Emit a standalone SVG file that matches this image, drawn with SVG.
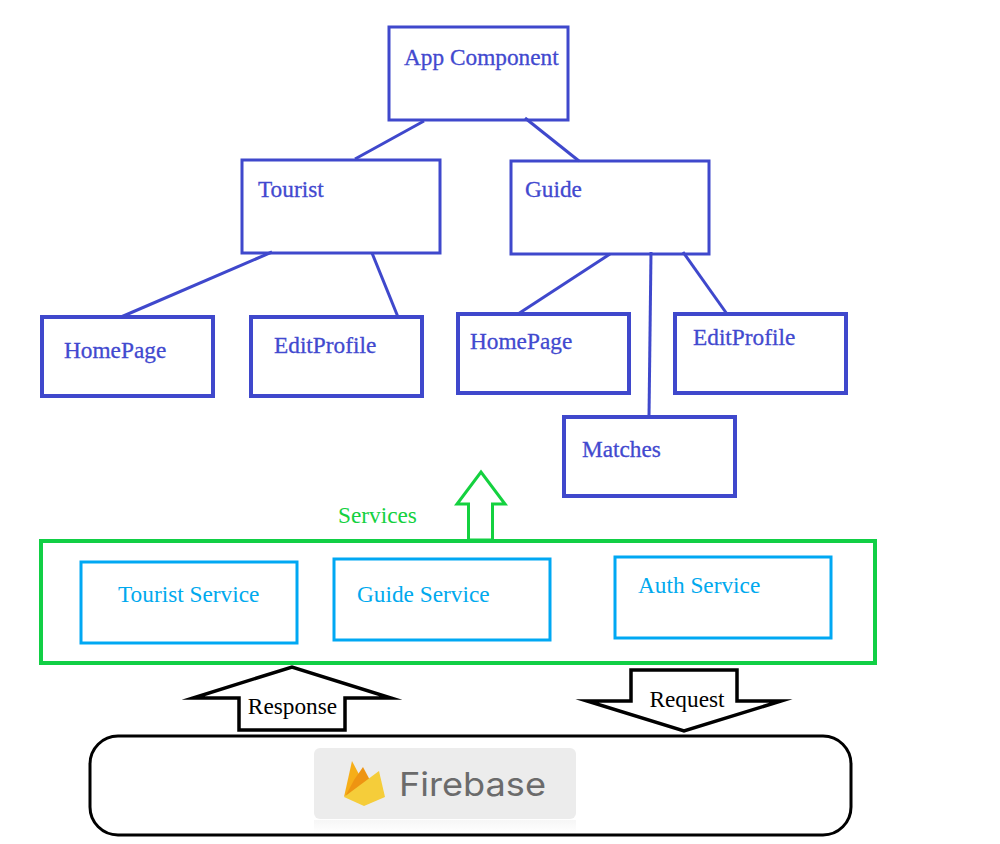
<svg xmlns="http://www.w3.org/2000/svg" width="1000" height="844" viewBox="0 0 1000 844">
<defs>
<linearGradient id="fade" x1="0" y1="0" x2="0" y2="1"><stop offset="0" stop-color="#f6f6f6"/><stop offset="1" stop-color="#ffffff"/></linearGradient>
</defs>
<style>
.t{font-family:"Liberation Serif","Times New Roman",serif;font-size:23.3px}
.blue{fill:#4249cf;stroke:#4249cf;stroke-width:.3px}
.cy{fill:#00a9ee}
.n{fill:#fff;stroke:#3f48cc;stroke-width:3}
.n4{fill:#fff;stroke:#3f48cc;stroke-width:4}
.s{fill:#fff;stroke:#00a8f3;stroke-width:3}
.c{fill:none;stroke:#3f48cc;stroke-width:3}
.bk{fill:#fff;stroke:#000;stroke-width:3.5;stroke-linejoin:miter;stroke-miterlimit:12}
</style>
<rect width="1000" height="844" fill="#fff"/>
<g id="app"><rect class="n" x="389" y="27" width="179" height="93"/><text class="t blue" x="404" y="65">App Component</text></g>
<g id="tourist"><rect class="n" x="242" y="160" width="198" height="93"/><text class="t blue" x="258" y="197">Tourist</text></g>
<g id="guide"><rect class="n" x="511" y="161" width="198" height="93"/><text class="t blue" x="525" y="197">Guide</text></g>
<g id="t-home"><rect class="n4" x="42" y="317" width="171" height="79"/><text class="t blue" x="64" y="358">HomePage</text></g>
<g id="t-edit"><rect class="n4" x="251" y="317" width="171" height="79"/><text class="t blue" x="274" y="353">EditProfile</text></g>
<g id="g-home"><rect class="n4" x="458" y="314" width="171" height="79"/><text class="t blue" x="470" y="349">HomePage</text></g>
<g id="g-edit"><rect class="n4" x="675" y="314" width="171" height="79"/><text class="t blue" x="693" y="345">EditProfile</text></g>
<g id="matches"><rect class="n4" x="564" y="417" width="171" height="79"/><text class="t blue" x="582" y="457">Matches</text></g>
<g id="connectors">
<line class="c" x1="424" y1="121" x2="355" y2="159"/>
<line class="c" x1="525" y1="118" x2="579" y2="161"/>
<line class="c" x1="272" y1="252" x2="121" y2="317"/>
<line class="c" x1="372" y1="253" x2="398" y2="317"/>
<line class="c" x1="610" y1="254" x2="518" y2="314"/>
<line class="c" x1="651" y1="252" x2="649" y2="417"/>
<line class="c" x1="683" y1="252" x2="727" y2="314"/>
</g>
<g id="services-arrow"><path d="M468.500 540V504H457L481 472L505 504H492.500V540Z" fill="#fff" stroke="#14d13f" stroke-width="3"/></g>
<g id="services-label"><text class="t" x="338" y="523" fill="#14d13f">Services</text></g>
<g id="services"><rect x="41" y="541" width="834" height="122" fill="none" stroke="#11cf45" stroke-width="4"/></g>
<g id="tourist-service"><rect class="s" x="81" y="562" width="216" height="81"/><text class="t cy" x="118" y="602">Tourist Service</text></g>
<g id="guide-service"><rect class="s" x="334" y="559" width="216" height="81"/><text class="t cy" x="357" y="602">Guide Service</text></g>
<g id="auth-service"><rect class="s" x="615" y="557" width="216" height="81"/><text class="t cy" x="638" y="593">Auth Service</text></g>
<g id="response"><path class="bk" d="M239 698H193L292 667L391 698H345V730H239Z"/><text x="292.500" y="714" text-anchor="middle" class="t" fill="#000">Response</text></g>
<g id="request"><path class="bk" d="M631 670H737V701H781L684 731L587 701H631Z"/><text x="687" y="707" text-anchor="middle" class="t" fill="#000">Request</text></g>
<g id="firebase">
<rect x="90" y="736" width="761" height="99" rx="28" fill="#fff" stroke="#000" stroke-width="3"/>
<rect x="314" y="748" width="262" height="71" rx="6" fill="#ececec"/>
<rect x="314" y="820" width="262" height="13" fill="url(#fade)"/>
<path d="M344 797L352 761L363 782Z" fill="#f6ae18"/>
<path d="M354 780L363 767L372 784L345 797Z" fill="#ee9412"/>
<path d="M344 797L379 771L385 797L364 806Z" fill="#f5cd3a"/>
<text x="399" y="796" font-family="Inter,Roboto,sans-serif" font-size="33" textLength="147" lengthAdjust="spacingAndGlyphs" fill="#6b6b6b">Firebase</text>
</g>
</svg>
